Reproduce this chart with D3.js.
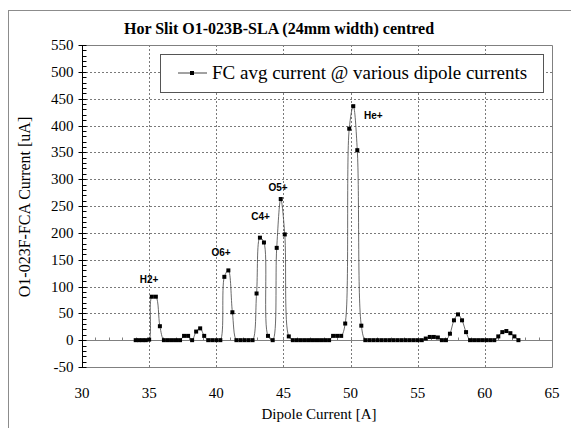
<!DOCTYPE html>
<html>
<head>
<meta charset="utf-8">
<script src="https://cdn.jsdelivr.net/npm/d3@7"></script>
<style>
  body { margin: 0; background: #fff; }
  svg text { fill: #000; }
</style>
</head>
<body>
<div id="chart"></div>
<script>
// dipole current [A] and FC average current [uA]
var dipole = [34.0, 34.25, 34.5, 34.75, 35.0, 35.2, 35.5, 35.8, 36.1, 36.4, 36.7, 37.0, 37.3, 37.6, 37.9,
    38.2, 38.5, 38.8, 39.1, 39.4, 39.7, 40.0, 40.3, 40.6, 40.9, 41.2, 41.5, 41.8, 42.1, 42.4, 42.7,
    43.0, 43.25, 43.55, 43.85, 44.2, 44.5, 44.8, 45.1, 45.4, 45.7, 46.0, 46.3, 46.6, 46.9, 47.2,
    47.5, 47.8, 48.1, 48.4, 48.7, 49.0, 49.3, 49.6, 49.9, 50.2, 50.5, 50.8, 51.1, 51.4, 51.7, 52.0,
    52.3, 52.6, 52.9, 53.2, 53.5, 53.8, 54.1, 54.4, 54.7, 55.0, 55.3, 55.6, 55.9, 56.2, 56.5, 56.8,
    57.1, 57.4, 57.7, 58.0, 58.3, 58.6, 58.9, 59.2, 59.5, 59.8, 60.1, 60.4, 60.7, 61.0, 61.3, 61.6,
    61.9, 62.2, 62.5
]
var fcCurrent = [0, 0, 0, 0, 1, 81, 81, 26, 0, 0, 0, 0, 0, 8, 8,
    0, 16, 22, 8, 0, 0, 0, 0, 118, 130, 52, 0, 0, 0, 0, 0,
    87, 191, 182, 8, 0, 172, 263, 197, 7, 0, 0, 0, 0, 0, 0,
    0, 0, 0, 0, 8, 8, 8, 31, 394, 436, 354, 27, 0, 0, 0, 0,
    0, 0, 0, 0, 0, 0, 0, 0, 0, 0, 0, 3, 6, 6, 5, 0,
    0, 12, 37, 48, 37, 15, 0, 0, 0, 0, 0, 0, 0, 7, 15, 17,
    13, 7, 0
]
// peak labels: name, dipole current, value position
var peakNames = ["H2+", "O6+", "C4+", "O5+", "He+"]
var peakX = [35.0, 40.35, 43.3, 44.6, 51.7]
var peakY = [114, 164, 231, 285, 420]

var xTicks = [30, 35, 40, 45, 50, 55, 60, 65]
var yTicks = [-50, 0, 50, 100, 150, 200, 250, 300, 350, 400, 450, 500, 550]

var titleText = "Hor Slit O1-023B-SLA (24mm width) centred"
var legendText = "FC avg current @ various dipole currents"
var xTitle = "Dipole Current [A]"
var yTitle = "O1-023F-FCA Current [uA]"

var width = 571, height = 428;
var plotL = 82, plotR = 552, plotT = 45, plotB = 367;
var serif = "'Liberation Serif', 'Times New Roman', serif";

var svg = d3.select("#chart").append("svg")
    .attr("width", width)
    .attr("height", height);

// outer chart border (runs off the picture on the right and bottom)
svg.append("rect")
    .attr("x", 8.5).attr("y", 10.5)
    .attr("width", 620).attr("height", 460)
    .attr("fill", "none")
    .attr("stroke", "#8c8c8c");

var x = d3.scaleLinear([30, 65], [plotL, plotR]);
var y = d3.scaleLinear([-50, 550], [plotB, plotT]);

// dotted grid
svg.append("g")
    .selectAll("line")
    .data(yTicks.filter(d => d > -50 && d < 550 && d != 0))
    .join("line")
    .attr("x1", plotL).attr("x2", plotR)
    .attr("y1", d => Math.round(y(d)) + 0.5).attr("y2", d => Math.round(y(d)) + 0.5)
    .attr("stroke", "#7a7a7a")
    .attr("stroke-dasharray", "2,2");

svg.append("g")
    .selectAll("line")
    .data(xTicks.filter(d => d > 30 && d < 65))
    .join("line")
    .attr("x1", d => Math.round(x(d)) + 0.5).attr("x2", d => Math.round(x(d)) + 0.5)
    .attr("y1", plotT).attr("y2", plotB)
    .attr("stroke", "#7a7a7a")
    .attr("stroke-dasharray", "2,2");

// plot frame: top, right, bottom
svg.append("path")
    .attr("d", `M${plotL},${plotT + 0.5}H${plotR + 0.5}V${plotB + 0.5}H${plotL}`)
    .attr("fill", "none")
    .attr("stroke", "#808080");

// zero line with small ticks every 1 A
var y0 = Math.round(y(0)) + 0.5;
svg.append("line")
    .attr("x1", plotL).attr("x2", plotR)
    .attr("y1", y0).attr("y2", y0)
    .attr("stroke", "#808080");
svg.append("g")
    .selectAll("line")
    .data(d3.range(31, 65))
    .join("line")
    .attr("x1", d => Math.round(x(d)) + 0.5).attr("x2", d => Math.round(x(d)) + 0.5)
    .attr("y1", y0).attr("y2", y0 - 3)
    .attr("stroke", "#808080");

// y axis with minor ticks every 10
var yAxis = svg.append("g")
    .attr("transform", `translate(${plotL + 0.5},0)`);
yAxis.append("line")
    .attr("y1", plotT).attr("y2", plotB)
    .attr("stroke", "#000");
yAxis.selectAll(".minor")
    .data(d3.range(-40, 550, 10).filter(d => d % 50 != 0))
    .join("line")
    .attr("class", "minor")
    .attr("x1", 0).attr("x2", 4)
    .attr("y1", d => Math.round(y(d)) + 0.5).attr("y2", d => Math.round(y(d)) + 0.5)
    .attr("stroke", "#000");
yAxis.selectAll(".major")
    .data(yTicks)
    .join("line")
    .attr("class", "major")
    .attr("x1", -4).attr("x2", 4)
    .attr("y1", d => Math.round(y(d)) + 0.5).attr("y2", d => Math.round(y(d)) + 0.5)
    .attr("stroke", "#000");
yAxis.selectAll("text")
    .data(yTicks)
    .join("text")
    .attr("x", -9)
    .attr("y", d => y(d) + 5)
    .attr("text-anchor", "end")
    .style("font-family", serif)
    .style("font-size", "15px")
    .text(d => d);

// x tick labels
svg.append("g")
    .selectAll("text")
    .data(xTicks)
    .join("text")
    .attr("x", d => x(d))
    .attr("y", 398)
    .attr("text-anchor", "middle")
    .style("font-family", serif)
    .style("font-size", "15px")
    .text(d => d);

// data line + square markers
var line = d3.line()
    .x((d, i) => x(dipole[i]))
    .y(d => y(d))
    .curve(d3.curveCatmullRom.alpha(0.5));

svg.append("path")
    .datum(fcCurrent)
    .attr("d", line)
    .attr("fill", "none")
    .attr("stroke", "#444")
    .attr("stroke-width", 0.8);

svg.append("g")
    .selectAll("rect")
    .data(fcCurrent)
    .join("rect")
    .attr("x", (d, i) => x(dipole[i]) - 2)
    .attr("y", d => y(d) - 2)
    .attr("width", 4).attr("height", 4)
    .attr("fill", "#000");

// peak labels
svg.append("g")
    .selectAll("text")
    .data(peakNames)
    .join("text")
    .attr("x", (d, i) => x(peakX[i]))
    .attr("y", (d, i) => y(peakY[i]) + 4)
    .attr("text-anchor", "middle")
    .style("font-family", "'Liberation Sans', Arial, sans-serif")
    .style("font-size", "10px")
    .style("font-weight", "bold")
    .text(d => d);

// legend
var lg = svg.append("g");
lg.append("rect")
    .attr("x", 160.5).attr("y", 54.5)
    .attr("width", 383).attr("height", 38)
    .attr("fill", "#fff")
    .attr("stroke", "#555");
lg.append("line")
    .attr("x1", 178).attr("x2", 207)
    .attr("y1", 73).attr("y2", 73)
    .attr("stroke", "#444");
lg.append("rect")
    .attr("x", 190).attr("y", 71)
    .attr("width", 4).attr("height", 4)
    .attr("fill", "#000");
lg.append("text")
    .attr("x", 212).attr("y", 79)
    .style("font-family", serif)
    .style("font-size", "19px")
    .text(legendText);

// titles
svg.append("text")
    .attr("x", 279).attr("y", 34)
    .attr("text-anchor", "middle")
    .style("font-family", serif)
    .style("font-size", "16px")
    .style("font-weight", "bold")
    .text(titleText);

svg.append("text")
    .attr("x", 319).attr("y", 419)
    .attr("text-anchor", "middle")
    .style("font-family", serif)
    .style("font-size", "15px")
    .text(xTitle);

svg.append("text")
    .attr("transform", "translate(30,207) rotate(-90)")
    .attr("text-anchor", "middle")
    .style("font-family", serif)
    .style("font-size", "16px")
    .text(yTitle);
</script>
</body>
</html>
